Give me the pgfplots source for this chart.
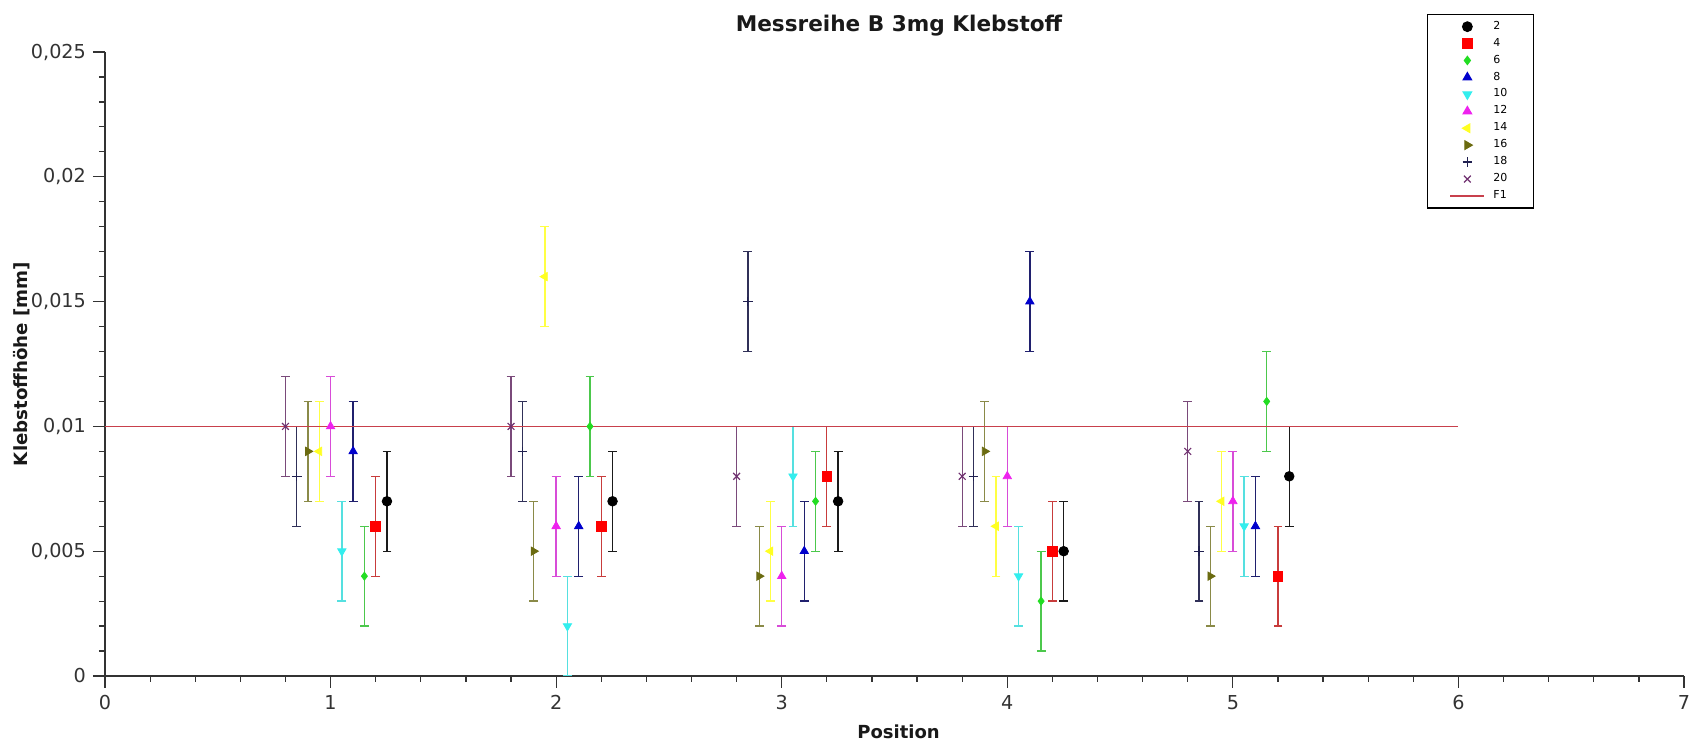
\documentclass[border=0pt]{standalone}
\usepackage{fontspec}
\setmainfont{DejaVu Sans}
\usepackage{pgfplots}
\pgfplotsset{compat=1.18}
\definecolor{m2}{HTML}{000000}\definecolor{b2}{HTML}{1A1A1A}
\definecolor{m4}{HTML}{FF0000}\definecolor{b4}{HTML}{C83C3C}
\definecolor{m6}{HTML}{22DD22}\definecolor{b6}{HTML}{4CC84C}
\definecolor{m8}{HTML}{0000CC}\definecolor{b8}{HTML}{20206E}
\definecolor{m10}{HTML}{33EEEE}\definecolor{b10}{HTML}{55E0E0}
\definecolor{m12}{HTML}{EE22EE}\definecolor{b12}{HTML}{D84CD8}
\definecolor{m14}{HTML}{FFFF22}\definecolor{b14}{HTML}{FFFF44}
\definecolor{m16}{HTML}{6B6B10}\definecolor{b16}{HTML}{8A8A48}
\definecolor{m18}{HTML}{202050}\definecolor{b18}{HTML}{303058}
\definecolor{m20}{HTML}{703070}\definecolor{b20}{HTML}{7A4A7A}
\definecolor{f1}{HTML}{C8404C}
\definecolor{txt}{HTML}{333333}
\pgfplotsset{
  ebar/.style={only marks, color=m#1, mark options={fill=m#1, draw=m#1},
    error bars/y dir=both, error bars/y explicit,
    error bars/error bar style={line width=0.65pt, color=b#1},
    error bars/error mark options={rotate=90, mark size=2.2pt, line width=0.65pt, color=b#1}},
}
\newcommand{\legent}[1]{\addlegendentry{\hspace{2.2pt}#1}}
\begin{document}
\begin{tikzpicture}
\begin{axis}[
  at={(0,0)}, anchor=south west,
  scale only axis, width=789.5pt, height=312pt,
  xmin=0, xmax=7, ymin=0, ymax=0.025,
  scaled y ticks=false,
  axis x line=bottom, axis y line=left,
  axis line style={-, line width=0.6pt, draw=txt},
  tick align=outside,
  major tick length=6pt, minor tick length=3pt,
  tick style={line width=0.6pt, draw=txt},
  xtick={0,1,2,3,4,5,6,7},
  xticklabels={0,1,2,3,4,5,6,7},
  minor x tick num=4,
  ytick={0,0.005,0.01,0.015,0.02,0.025},
  yticklabels={0,{0,005},{0,01},{0,015},{0,02},{0,025}},
  minor y tick num=4,
  ticklabel style={font=\fontsize{9.6}{11}\selectfont, text=txt},
  clip=true,
  legend style={at={(0.8373,1.0609)}, anchor=north west, draw=black, line width=0.6pt,
    font=\fontsize{5.5}{6}\selectfont, fill=white, inner xsep=11pt, inner ysep=1.8pt,
    row sep=0pt, nodes={inner ysep=1.45pt}},
  legend cell align=left,
  legend image post style={line width=0.6pt},
]
\addplot[ebar=2, mark=*, mark size=2.4pt] table[x=x, y=y, y error=e]{
x y e
1.25 0.007 0.002
2.25 0.007 0.002
3.25 0.007 0.002
4.25 0.005 0.002
5.25 0.008 0.002
};
\legent{2}
\addplot[ebar=4, mark=square*, mark size=2.4pt] table[x=x, y=y, y error=e]{
x y e
1.2 0.006 0.002
2.2 0.006 0.002
3.2 0.008 0.002
4.2 0.005 0.002
5.2 0.004 0.002
};
\legent{4}
\addplot[ebar=6, mark=diamond*, mark size=2.0pt] table[x=x, y=y, y error=e]{
x y e
1.15 0.004 0.002
2.15 0.010 0.002
3.15 0.007 0.002
4.15 0.003 0.002
5.15 0.011 0.002
};
\legent{6}
\addplot[ebar=8, mark=triangle*, mark size=2.4pt] table[x=x, y=y, y error=e]{
x y e
1.1 0.009 0.002
2.1 0.006 0.002
3.1 0.005 0.002
4.1 0.015 0.002
5.1 0.006 0.002
};
\legent{8}
\addplot[ebar=10, mark=triangle*, mark options={rotate=180}, mark size=2.4pt] table[x=x, y=y, y error=e]{
x y e
1.05 0.005 0.002
2.05 0.002 0.002
3.05 0.008 0.002
4.05 0.004 0.002
5.05 0.006 0.002
};
\legent{10}
\addplot[ebar=12, mark=triangle*, mark size=2.4pt] table[x=x, y=y, y error=e]{
x y e
1.0 0.010 0.002
2.0 0.006 0.002
3.0 0.004 0.002
4.0 0.008 0.002
5.0 0.007 0.002
};
\legent{12}
\addplot[ebar=14, mark=triangle*, mark options={rotate=90}, mark size=2.4pt] table[x=x, y=y, y error=e]{
x y e
0.95 0.009 0.002
1.95 0.016 0.002
2.95 0.005 0.002
3.95 0.006 0.002
4.95 0.007 0.002
};
\legent{14}
\addplot[ebar=16, mark=triangle*, mark options={rotate=-90}, mark size=2.4pt] table[x=x, y=y, y error=e]{
x y e
0.9 0.009 0.002
1.9 0.005 0.002
2.9 0.004 0.002
3.9 0.009 0.002
4.9 0.004 0.002
};
\legent{16}
\addplot[ebar=18, mark=+, mark size=2.4pt, mark options={line width=0.6pt}] table[x=x, y=y, y error=e]{
x y e
0.85 0.008 0.002
1.85 0.009 0.002
2.85 0.015 0.002
3.85 0.008 0.002
4.85 0.005 0.002
};
\legent{18}
\addplot[ebar=20, mark=x, mark size=2.4pt, mark options={line width=0.6pt}] table[x=x, y=y, y error=e]{
x y e
0.8 0.010 0.002
1.8 0.010 0.002
2.8 0.008 0.002
3.8 0.008 0.002
4.8 0.009 0.002
};
\legent{20}
\addplot[f1, line width=0.7pt, mark=none] coordinates {(0,0.01) (6,0.01)};
\legent{F1}
\end{axis}
\node[anchor=base, font=\bfseries\fontsize{10.8}{12}\selectfont, text=black!90] at (397pt,322pt) {Messreihe B 3mg Klebstoff};
\node[anchor=base, font=\bfseries\fontsize{9}{11}\selectfont, text=black!90] at (396.75pt,-31.5pt) {Position};
\node[rotate=90, anchor=center, font=\bfseries\fontsize{9.1}{11}\selectfont, text=black!90] at (-41.7pt,156pt) {Klebstoffhöhe [mm]};
\pgfresetboundingbox
\path (-52.5pt,-33pt) rectangle (798pt,338pt);
\end{tikzpicture}
\end{document}
